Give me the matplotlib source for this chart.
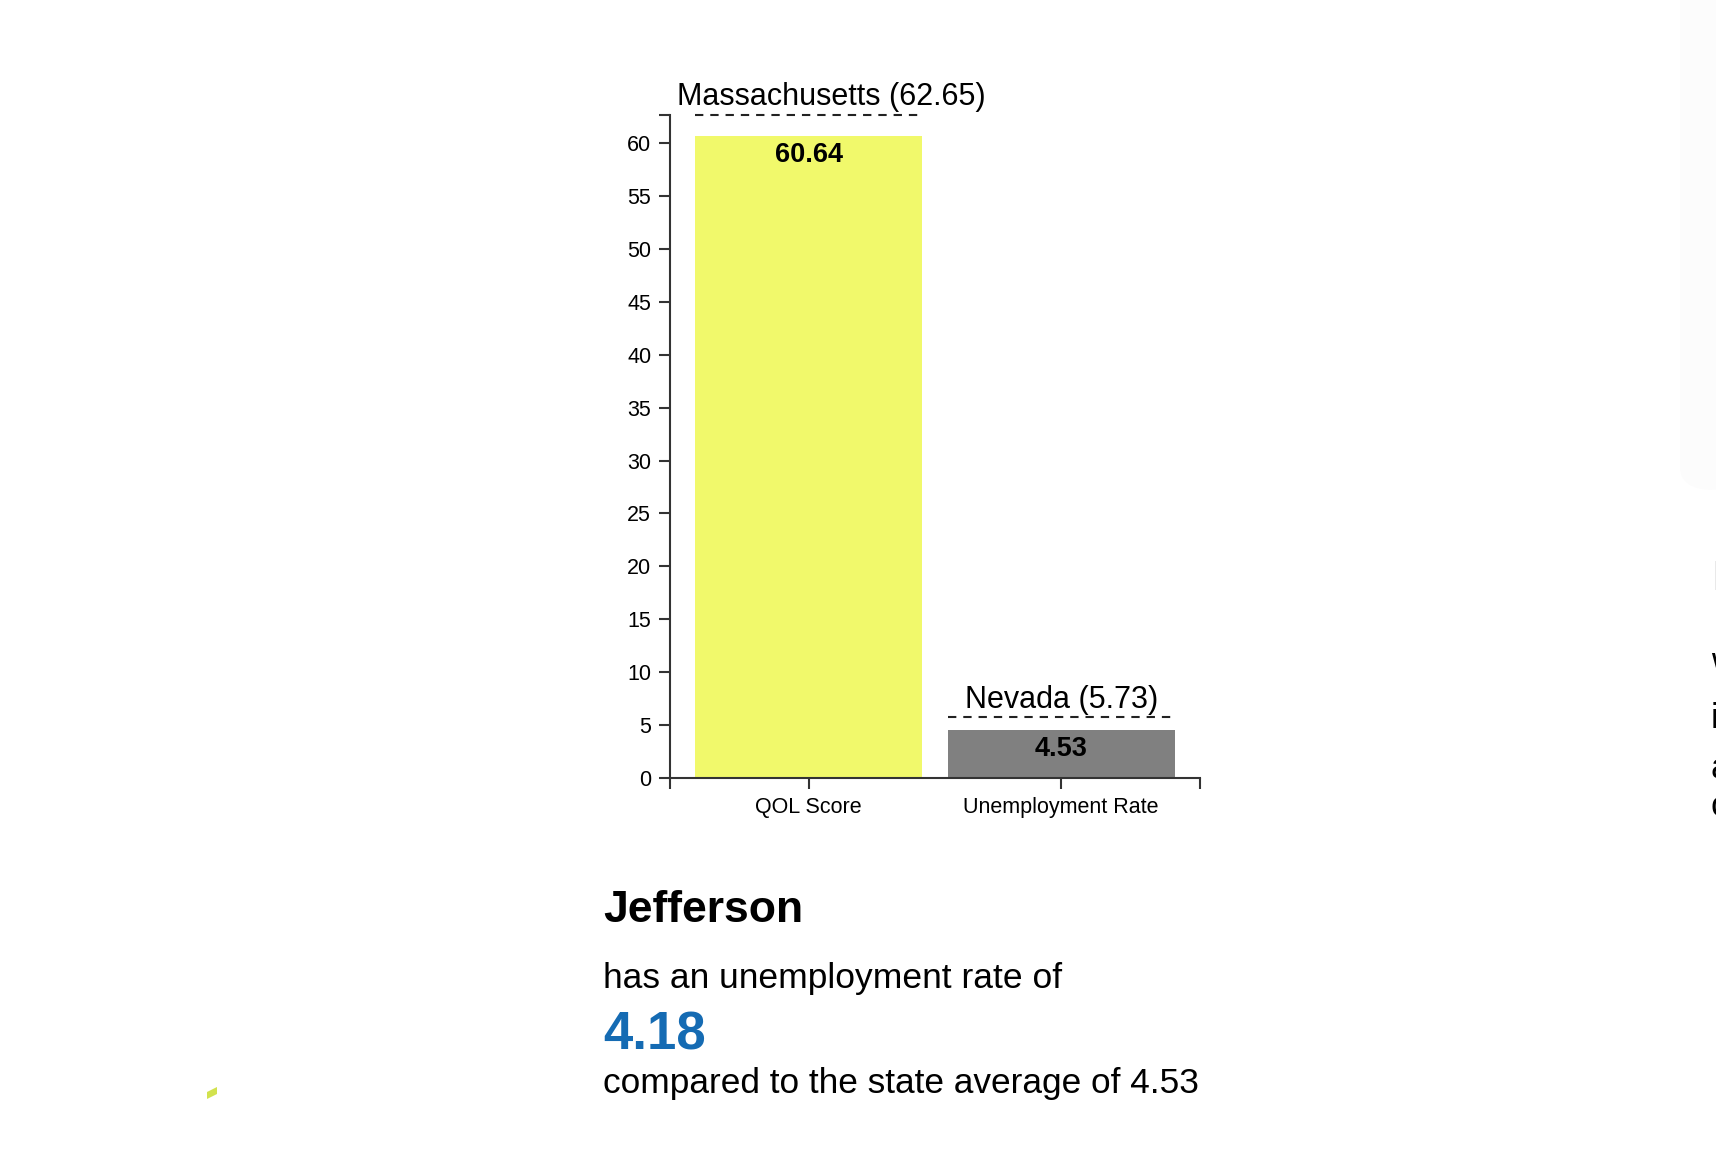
import matplotlib
matplotlib.use('Agg')
import matplotlib.pyplot as plt
from matplotlib.patches import Polygon, FancyBboxPatch

plt.rcParams['font.family'] = ['Liberation Sans', 'DejaVu Sans']
plt.rcParams['lines.scale_dashes'] = False

# data
categories = ['QOL Score', 'Unemployment Rate']
county_values = [60.64, 4.53]
state_names = ['Massachusetts', 'Nevada']
state_values = [62.65, 5.73]
bar_colors = ['#f1f96b', '#808080']
y_ticks = [0, 5, 10, 15, 20, 25, 30, 35, 40, 45, 50, 55, 60]

county = 'Jefferson'
county_rate = 4.18
state_average = 4.53

W, H = 1716, 1154
fig = plt.figure(figsize=(W / 100, H / 100), dpi=100)


def fx(x):
    return x / W


def fy(y):
    return 1 - y / H


# axes box in pixels: x 670..1200, y 115..778
ax = fig.add_axes([fx(670), fy(778), fx(1200) - fx(670), (778 - 115) / H])

x = list(range(len(categories)))
ax.bar(x, county_values, width=0.9, color=bar_colors)
ax.set_xlim(-0.55, len(categories) - 0.45)
ax.set_ylim(0, max(state_values))

# state reference lines + labels
label_dx = [16.5, 0]
for i, (name, val) in enumerate(zip(state_names, state_values)):
    ax.plot([i - 0.45, i + 0.45], [val, val], color='#222222', lw=1.5,
            dashes=(6, 5), clip_on=False)
    ax.annotate(f'{name} ({val})', xy=(i, val), xytext=(label_dx[i], 7),
                textcoords='offset points', ha='center', va='baseline',
                fontsize=22, color='black', annotation_clip=False)

# value labels inside bars
for i, val in enumerate(county_values):
    ax.annotate(f'{val}', xy=(i, val), xytext=(0, -18.7),
                textcoords='offset points', ha='center', va='baseline',
                fontsize=19.5, fontweight='bold', color='black')

for s in ['top', 'right']:
    ax.spines[s].set_visible(False)
for s in ['left', 'bottom']:
    ax.spines[s].set_color('#333333')
    ax.spines[s].set_linewidth(1.5)

ax.set_yticks(y_ticks)
ax.set_xticks(x)
ax.set_xticklabels(categories)
# d3-style outer ticks at the axis ends
ax.set_yticks([max(state_values)], minor=True)
ax.set_xticks([-0.55, len(categories) - 0.45], minor=True)
ax.tick_params(which='both', length=8, width=1.5, color='#333333')
ax.tick_params(axis='y', labelsize=15.5, pad=5.5)
ax.tick_params(axis='x', labelsize=15.5, pad=6)

# text block under the chart
fig.text(fx(603), fy(922), county, fontsize=32, fontweight='bold',
         va='baseline', ha='left', color='black')
fig.text(fx(603), fy(988), 'has an unemployment rate of', fontsize=25.5,
         va='baseline', ha='left', color='black')
fig.text(fx(603), fy(1050), f'{county_rate}', fontsize=38, fontweight='bold',
         va='baseline', ha='left', color='#156bb3')
fig.text(fx(603), fy(1093), f'compared to the state average of {state_average}',
         fontsize=25.4, va='baseline', ha='left', color='black')

# page fragments around the chart
fig.patches.append(FancyBboxPatch((fx(1680), fy(490)), fx(60), 510 / H,
                                  boxstyle='round,pad=0,rounding_size=0.02',
                                  transform=fig.transFigure, facecolor='#fcfcfc',
                                  edgecolor='none', zorder=0))
fig.patches.append(Polygon([(fx(207), fy(1092)), (fx(217), fy(1087)),
                            (fx(217), fy(1094)), (fx(207), fy(1099))],
                           closed=True, transform=fig.transFigure,
                           facecolor='#d2e24e', edgecolor='none'))
fig.text(fx(1711), fy(590), 'I', fontsize=30, color='#555555', va='baseline')
for yb, ch in zip([672, 728, 778, 816], ['w', 'i', 'a', 'c']):
    fig.text(fx(1711), fy(yb), ch, fontsize=25, color='black', va='baseline')

fig.savefig('out.png', dpi=100, facecolor='white')
